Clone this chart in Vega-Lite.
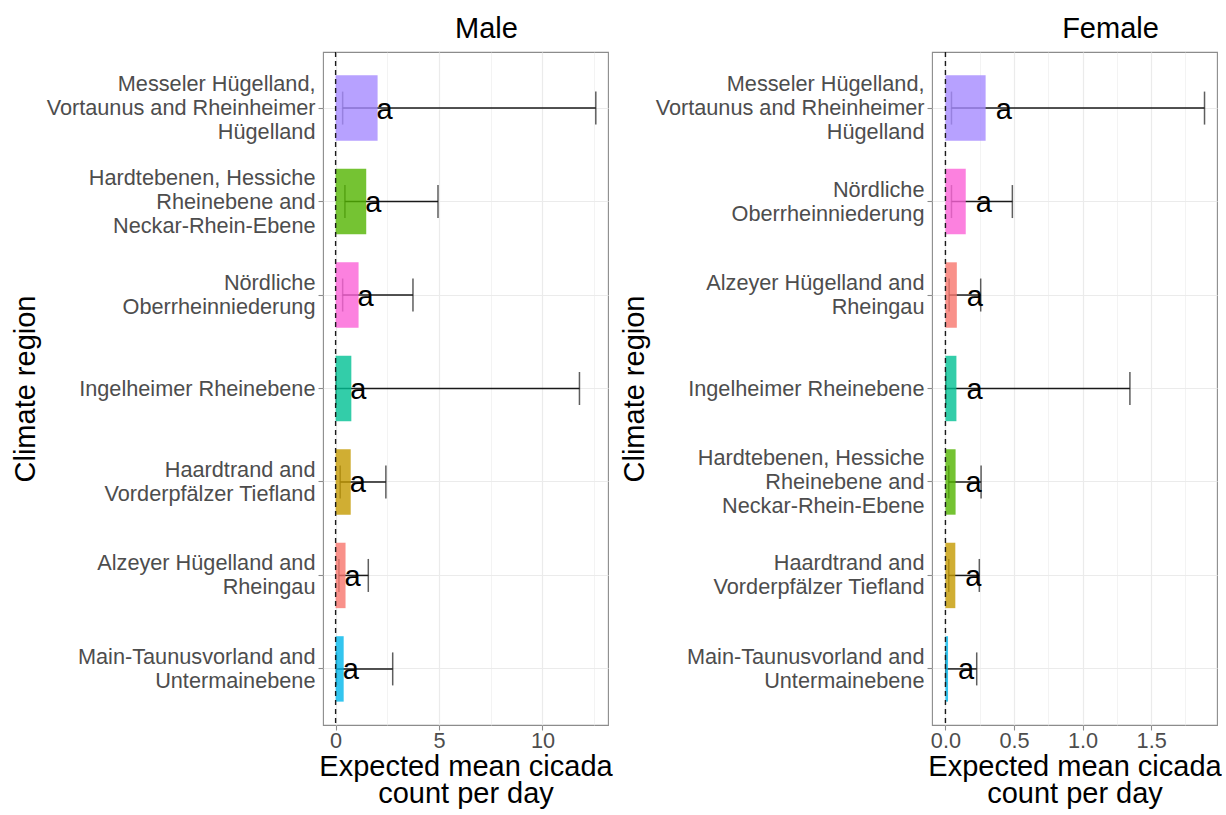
{
  "$schema": "https://vega.github.io/schema/vega-lite/v6.json",
  "padding": {"left": 10, "top": 14, "right": 0, "bottom": 0},
  "bounds": "flush",
  "spacing": 324,
  "config": {
    "font": "Liberation Sans",
    "background": "white",
    "view": {"stroke": "#8C8C8C", "strokeWidth": 1.1},
    "axis": {
      "labelFont": "Liberation Sans",
      "labelFontSize": 21.7,
      "labelColor": "#4D4D4D",
      "tickColor": "#8C8C8C",
      "tickSize": 5,
      "tickWidth": 1.1,
      "domain": false,
      "gridColor": "#EBEBEB",
      "titleFont": "Liberation Sans",
      "titleFontSize": 29,
      "titleFontWeight": "normal",
      "titleColor": "#000000"
    },
    "title": {"font": "Liberation Sans", "fontSize": 29, "fontWeight": "normal", "color": "#000000"}
  },
  "data": {
    "values": [
      {"sex": "Male", "region": "Messeler Hügelland,\nVortaunus and Rheinheimer\nHügelland", "mean": 2.03, "lo": 0.34, "hi": 12.58, "letter": "a"},
      {"sex": "Male", "region": "Hardtebenen, Hessiche\nRheinebene and\nNeckar-Rhein-Ebene", "mean": 1.48, "lo": 0.45, "hi": 4.95, "letter": "a"},
      {"sex": "Male", "region": "Nördliche\nOberrheinniederung", "mean": 1.11, "lo": 0.34, "hi": 3.74, "letter": "a"},
      {"sex": "Male", "region": "Ingelheimer Rheinebene", "mean": 0.76, "lo": 0.03, "hi": 11.79, "letter": "a"},
      {"sex": "Male", "region": "Haardtrand and\nVorderpfälzer Tiefland", "mean": 0.73, "lo": 0.22, "hi": 2.43, "letter": "a"},
      {"sex": "Male", "region": "Alzeyer Hügelland and\nRheingau", "mean": 0.48, "lo": 0.16, "hi": 1.58, "letter": "a"},
      {"sex": "Male", "region": "Main-Taunusvorland and\nUntermainebene", "mean": 0.39, "lo": 0.04, "hi": 2.76, "letter": "a"},
      {"sex": "Female", "region": "Messeler Hügelland,\nVortaunus and Rheinheimer\nHügelland", "mean": 0.293, "lo": 0.044, "hi": 1.889, "letter": "a"},
      {"sex": "Female", "region": "Nördliche\nOberrheinniederung", "mean": 0.148, "lo": 0.044, "hi": 0.488, "letter": "a"},
      {"sex": "Female", "region": "Alzeyer Hügelland and\nRheingau", "mean": 0.083, "lo": 0.027, "hi": 0.257, "letter": "a"},
      {"sex": "Female", "region": "Ingelheimer Rheinebene", "mean": 0.08, "lo": 0.004, "hi": 1.345, "letter": "a"},
      {"sex": "Female", "region": "Hardtebenen, Hessiche\nRheinebene and\nNeckar-Rhein-Ebene", "mean": 0.074, "lo": 0.024, "hi": 0.26, "letter": "a"},
      {"sex": "Female", "region": "Haardtrand and\nVorderpfälzer Tiefland", "mean": 0.072, "lo": 0.024, "hi": 0.247, "letter": "a"},
      {"sex": "Female", "region": "Main-Taunusvorland and\nUntermainebene", "mean": 0.019, "lo": 0.002, "hi": 0.228, "letter": "a"}
    ]
  },
  "resolve": {"scale": {"color": "shared"}},
  "hconcat": [
    {
      "title": {"text": "Male", "anchor": "middle", "frame": "group", "dx": 21, "offset": -16, "baseline": "alphabetic"},
      "width": 285,
      "height": 673,
      "transform": [{"filter": "datum.sex === 'Male'"}],
      "encoding": {
        "x": {
          "type": "quantitative",
          "scale": {"domain": [-0.61, 13.17], "nice": false, "zero": false},
          "axis": {
            "values": [0, 2.5, 5, 7.5, 10, 12.5],
            "labelExpr": "datum.value % 5 === 0 ? datum.label : ''",
            "format": "d",
            "grid": true,
            "gridWidth": {"condition": {"test": "datum.value % 5 === 0", "value": 1.2}, "value": 0.6},
            "tickOpacity": {"condition": {"test": "datum.value % 5 === 0", "value": 1}, "value": 0},
            "labelPadding": 0,
            "title": ["Expected mean cicada", "count per day"],
            "titleLineHeight": 27,
            "titlePadding": 1
          }
        }
      },
      "layer": [
        {
          "mark": {"type": "rule", "color": "#1A1A1A", "strokeWidth": 1.5},
          "encoding": {
            "x": {"field": "lo"},
            "x2": {"field": "hi"},
            "y": {"field": "region", "type": "nominal", "sort": {"field": "mean", "op": "sum", "order": "descending"},
                  "scale": {"paddingInner": 0.3, "paddingOuter": 0.25},
                  "axis": {"labelExpr": "split(datum.label, '\\n')", "labelLineHeight": 24, "labelLimit": 400, "labelPadding": 3,
                           "labelOffset": {"condition": [
                             {"test": "length(split(datum.value, '\\n')) === 3", "value": -24},
                             {"test": "length(split(datum.value, '\\n')) === 2", "value": -12}], "value": 0},
                           "grid": true, "gridWidth": 1.2, "bandPosition": 0.5, "title": "Climate region", "titleX": -283}}
          }
        },
        {
          "mark": {"type": "tick", "color": "#1A1A1A", "size": 33, "thickness": 1.5},
          "encoding": {
            "x": {"field": "lo", "type": "quantitative"},
            "y": {"field": "region", "type": "nominal", "sort": {"field": "mean", "op": "sum", "order": "descending"}}
          }
        },
        {
          "mark": {"type": "tick", "color": "#1A1A1A", "size": 33, "thickness": 1.5},
          "encoding": {
            "x": {"field": "hi", "type": "quantitative"},
            "y": {"field": "region", "type": "nominal", "sort": {"field": "mean", "op": "sum", "order": "descending"}}
          }
        },
        {
          "mark": {"type": "bar", "opacity": 0.8},
          "encoding": {
            "x": {"field": "mean", "type": "quantitative"},
            "y": {"field": "region", "type": "nominal", "sort": {"field": "mean", "op": "sum", "order": "descending"}},
            "color": {
              "field": "region", "type": "nominal", "legend": null,
              "scale": {
                "domain": [
                  "Alzeyer Hügelland and\nRheingau",
                  "Haardtrand and\nVorderpfälzer Tiefland",
                  "Hardtebenen, Hessiche\nRheinebene and\nNeckar-Rhein-Ebene",
                  "Ingelheimer Rheinebene",
                  "Main-Taunusvorland and\nUntermainebene",
                  "Messeler Hügelland,\nVortaunus and Rheinheimer\nHügelland",
                  "Nördliche\nOberrheinniederung"
                ],
                "range": ["#F8766D", "#C49A00", "#53B400", "#00C094", "#00B6EB", "#A58AFF", "#FB61D7"]
              }
            }
          }
        },
        {
          "data": {"values": [{"ref": 0}]},
          "mark": {"type": "rule", "color": "#1A1A1A", "strokeWidth": 1.4, "strokeDash": [5, 4]},
          "encoding": {"x": {"field": "ref", "type": "quantitative"}}
        },
        {
          "mark": {"type": "text", "align": "left", "baseline": "alphabetic", "dx": -1, "dy": 10.5, "fontSize": 29, "color": "#000000"},
          "encoding": {
            "x": {"field": "mean", "type": "quantitative"},
            "y": {"field": "region", "type": "nominal", "sort": {"field": "mean", "op": "sum", "order": "descending"}},
            "text": {"field": "letter"}
          }
        }
      ]
    },
    {
      "title": {"text": "Female", "anchor": "middle", "frame": "group", "dx": 36, "offset": -16, "baseline": "alphabetic"},
      "width": 285,
      "height": 673,
      "transform": [{"filter": "datum.sex === 'Female'"}],
      "encoding": {
        "x": {
          "type": "quantitative",
          "scale": {"domain": [-0.098, 1.98], "nice": false, "zero": false},
          "axis": {
            "values": [0, 0.25, 0.5, 0.75, 1, 1.25, 1.5, 1.75],
            "labelExpr": "(datum.value * 2) % 1 === 0 ? datum.label : ''",
            "format": ".1f",
            "grid": true,
            "gridWidth": {"condition": {"test": "(datum.value * 2) % 1 === 0", "value": 1.2}, "value": 0.6},
            "tickOpacity": {"condition": {"test": "(datum.value * 2) % 1 === 0", "value": 1}, "value": 0},
            "labelPadding": 0,
            "title": ["Expected mean cicada", "count per day"],
            "titleLineHeight": 27,
            "titlePadding": 1
          }
        }
      },
      "layer": [
        {
          "mark": {"type": "rule", "color": "#1A1A1A", "strokeWidth": 1.5},
          "encoding": {
            "x": {"field": "lo"},
            "x2": {"field": "hi"},
            "y": {"field": "region", "type": "nominal", "sort": {"field": "mean", "op": "sum", "order": "descending"},
                  "scale": {"paddingInner": 0.3, "paddingOuter": 0.25},
                  "axis": {"labelExpr": "split(datum.label, '\\n')", "labelLineHeight": 24, "labelLimit": 400, "labelPadding": 3,
                           "labelOffset": {"condition": [
                             {"test": "length(split(datum.value, '\\n')) === 3", "value": -24},
                             {"test": "length(split(datum.value, '\\n')) === 2", "value": -12}], "value": 0},
                           "grid": true, "gridWidth": 1.2, "bandPosition": 0.5, "title": "Climate region", "titleX": -283}}
          }
        },
        {
          "mark": {"type": "tick", "color": "#1A1A1A", "size": 33, "thickness": 1.5},
          "encoding": {
            "x": {"field": "lo", "type": "quantitative"},
            "y": {"field": "region", "type": "nominal", "sort": {"field": "mean", "op": "sum", "order": "descending"}}
          }
        },
        {
          "mark": {"type": "tick", "color": "#1A1A1A", "size": 33, "thickness": 1.5},
          "encoding": {
            "x": {"field": "hi", "type": "quantitative"},
            "y": {"field": "region", "type": "nominal", "sort": {"field": "mean", "op": "sum", "order": "descending"}}
          }
        },
        {
          "mark": {"type": "bar", "opacity": 0.8},
          "encoding": {
            "x": {"field": "mean", "type": "quantitative"},
            "y": {"field": "region", "type": "nominal", "sort": {"field": "mean", "op": "sum", "order": "descending"}},
            "color": {"field": "region", "type": "nominal", "legend": null}
          }
        },
        {
          "data": {"values": [{"ref": 0}]},
          "mark": {"type": "rule", "color": "#1A1A1A", "strokeWidth": 1.4, "strokeDash": [5, 4]},
          "encoding": {"x": {"field": "ref", "type": "quantitative"}}
        },
        {
          "mark": {"type": "text", "align": "left", "baseline": "alphabetic", "dx": 10, "dy": 10.5, "fontSize": 29, "color": "#000000"},
          "encoding": {
            "x": {"field": "mean", "type": "quantitative"},
            "y": {"field": "region", "type": "nominal", "sort": {"field": "mean", "op": "sum", "order": "descending"}},
            "text": {"field": "letter"}
          }
        }
      ]
    }
  ]
}
